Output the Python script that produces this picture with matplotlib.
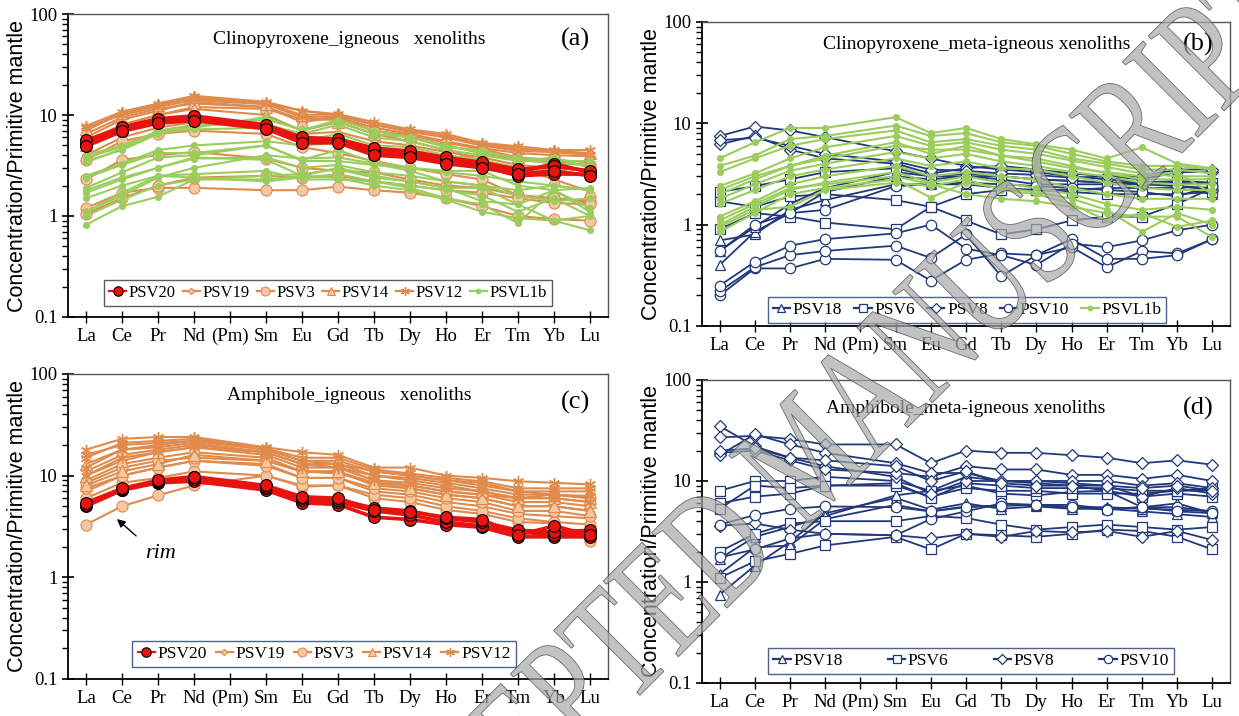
import matplotlib
matplotlib.use("Agg")
import matplotlib.pyplot as plt
from matplotlib.lines import Line2D
from matplotlib.patches import PathPatch
from matplotlib.textpath import TextPath
from matplotlib.font_manager import FontProperties
from matplotlib.transforms import Affine2D
from matplotlib.ticker import LogLocator, NullFormatter, FixedLocator
import numpy as np

# REE order, (Pm) is only a spacer on the x axis
REE_LABELS = ["La", "Ce", "Pr", "Nd", "(Pm)", "Sm", "Eu", "Gd", "Tb",
              "Dy", "Ho", "Er", "Tm", "Yb", "Lu"]

# ---- clinopyroxene, igneous xenoliths (a) ----
cpx_ig_psv20 = [
    [5.0, 7.0, 8.5, 9.0, 7.5, 5.5, 5.5, 4.2, 3.9, 3.4, 3.1, 2.5, 2.6, 2.6],
    [5.3, 7.3, 8.9, 9.5, 7.8, 5.8, 5.6, 4.5, 4.2, 3.6, 3.3, 2.7, 3.3, 2.7],
    [5.6, 7.6, 9.2, 9.8, 8.0, 6.0, 5.8, 4.7, 4.4, 3.8, 3.4, 2.9, 3.1, 2.8],
    [4.9, 6.9, 8.3, 8.8, 7.3, 5.3, 5.3, 4.0, 3.8, 3.3, 3.0, 2.6, 2.8, 2.5],
]
cpx_ig_psv19 = [
    [6.5, 9.5, 11.5, 13.0, 12.0, 9.0, 9.5, 7.5, 6.5, 5.5, 4.7, 4.2, 4.0, 3.9],
    [7.0, 10.5, 12.5, 14.5, 13.0, 11.0, 10.0, 8.0, 7.0, 6.0, 5.0, 4.6, 4.3, 4.1],
    [4.0, 6.0, 7.5, 8.5, 8.0, 6.5, 6.8, 5.5, 5.0, 4.3, 3.8, 3.2, 3.0, 2.8],
]
cpx_ig_psv3 = [
    [1.2, 1.7, 1.9, 1.9, 1.8, 1.8, 1.95, 1.8, 1.7, 1.5, 1.25, 1.0, 0.93, 0.9],
    [2.3, 3.6, 4.0, 4.3, 3.7, 3.0, 2.8, 2.7, 2.3, 2.0, 1.9, 1.6, 1.5, 1.35],
    [3.6, 5.5, 6.5, 7.0, 6.5, 4.8, 4.2, 3.5, 3.0, 2.6, 2.3, 1.6, 1.5, 1.4],
    [1.05, 1.5, 2.0, 2.4, 2.5, 2.4, 2.5, 2.2, 2.0, 1.8, 1.7, 1.5, 1.35, 1.3],
    [5.5, 8.0, 10.0, 12.0, 11.5, 9.0, 9.0, 7.0, 6.0, 5.0, 4.2, 3.6, 3.4, 3.2],
]
cpx_ig_psv14 = [
    [6.0, 9.0, 11.0, 13.5, 12.0, 8.5, 9.5, 7.0, 6.3, 5.3, 4.6, 3.8, 3.6, 3.4],
    [5.0, 8.0, 10.0, 11.5, 10.0, 7.0, 8.5, 6.5, 5.5, 4.5, 3.5, 3.0, 2.3, 1.75],
    [7.2, 10.5, 12.5, 15.0, 13.0, 10.0, 10.2, 8.0, 7.0, 6.2, 5.2, 4.7, 4.4, 4.2],
]
cpx_ig_psv12 = [
    [7.8, 10.8, 13.0, 15.5, 13.5, 11.0, 10.2, 8.5, 7.2, 6.5, 5.3, 4.9, 4.5, 4.5],
    [7.5, 10.0, 12.0, 14.0, 12.8, 9.5, 9.8, 8.0, 6.8, 6.0, 5.0, 4.4, 4.3, 4.0],
]
cpx_ig_psvl1b = [
    [3.5, 4.5, 6.5, 7.5, 9.5, 7.0, 9.0, 7.0, 6.0, 5.0, 4.2, 3.8, 3.5, 3.5],
    [3.8, 4.8, 7.0, 8.0, 8.0, 6.5, 8.0, 6.0, 5.5, 4.5, 4.0, 3.5, 3.8, 3.0],
    [4.0, 5.0, 6.8, 7.2, 7.5, 5.5, 6.5, 5.0, 4.8, 4.0, 3.6, 3.0, 3.0, 2.8],
    [2.5, 3.3, 4.5, 5.0, 5.5, 5.0, 5.3, 4.5, 4.3, 3.8, 3.4, 2.8, 2.9, 2.5],
    [2.4, 3.2, 4.2, 4.2, 5.0, 3.6, 4.5, 3.4, 3.0, 2.8, 2.8, 2.0, 1.8, 1.9],
    [1.9, 2.7, 3.8, 4.0, 5.0, 3.5, 3.5, 3.2, 3.0, 2.7, 2.5, 2.2, 2.0, 1.8],
    [1.7, 2.3, 3.0, 3.8, 3.6, 2.5, 3.0, 2.5, 2.2, 1.9, 1.9, 1.3, 1.8, 1.2],
    [1.5, 2.0, 2.5, 2.6, 2.8, 2.3, 2.3, 2.2, 2.0, 1.8, 1.6, 1.1, 1.5, 1.0],
    [1.1, 1.7, 2.5, 2.4, 2.2, 2.4, 2.6, 2.2, 1.9, 1.5, 1.3, 0.85, 1.8, 1.1],
    [1.0, 1.45, 2.0, 2.3, 2.5, 2.6, 2.9, 2.4, 2.2, 1.9, 1.4, 1.3, 0.9, 1.0],
    [0.82, 1.25, 1.55, 2.3, 2.3, 2.5, 2.4, 2.0, 1.8, 1.45, 1.1, 0.95, 0.9, 0.72],
    [1.1, 1.6, 2.4, 3.0, 4.0, 3.7, 3.8, 3.3, 2.8, 2.2, 2.0, 1.8, 2.0, 1.8],
    [3.4, 4.6, 6.8, 7.8, 9.0, 7.2, 8.5, 6.5, 6.0, 4.8, 4.5, 3.6, 3.3, 3.2],
    [1.8, 2.4, 3.0, 3.7, 3.8, 3.0, 3.2, 2.7, 2.5, 2.2, 2.0, 1.6, 1.4, 1.5],
]

# ---- clinopyroxene, meta-igneous xenoliths (b) ----
cpx_meta_psv18 = [
    [0.7, 0.8, 1.4, 1.75, 2.5, 2.5, 2.5, 2.3, 2.2, 2.2, 2.3, 2.3, 2.3, 2.0],
    [0.4, 0.85, 1.3, 2.1, 3.0, 2.8, 3.0, 2.8, 2.5, 2.5, 2.5, 2.5, 2.4, 2.3],
    [0.55, 0.95, 1.6, 2.3, 3.3, 3.0, 3.2, 3.0, 2.8, 2.7, 2.6, 2.5, 2.6, 2.5],
]
cpx_meta_psv6 = [
    [0.9, 1.3, 1.2, 1.05, 0.9, 1.5, 1.1, 0.8, 0.9, 1.1, 1.2, 1.2, 1.6, 2.3],
    [1.7, 1.5, 1.9, 2.0, 1.75, 1.5, 2.0, 2.2, 2.2, 2.1, 2.0, 2.0, 2.0, 2.1],
    [2.1, 2.4, 2.8, 3.3, 3.6, 3.0, 3.0, 3.0, 2.8, 2.7, 2.6, 2.6, 2.7, 2.6],
]
cpx_meta_psv8 = [
    [7.5, 9.3, 8.5, 7.3, 5.3, 4.5, 3.8, 3.5, 3.3, 3.0, 2.8, 2.6, 2.4, 2.2],
    [6.2, 7.5, 5.5, 4.5, 4.0, 3.2, 3.6, 3.8, 3.5, 3.2, 3.0, 2.8, 3.3, 3.3],
    [6.8, 7.2, 6.0, 5.0, 4.2, 3.5, 3.4, 3.2, 3.1, 2.9, 3.0, 3.0, 3.5, 3.5],
]
cpx_meta_psv10 = [
    [0.2, 0.37, 0.37, 0.46, 0.45, 0.28, 0.45, 0.52, 0.5, 0.6, 0.38, 0.55, 0.52, 0.72],
    [0.22, 0.38, 0.5, 0.55, 0.62, 0.47, 0.8, 0.31, 0.5, 0.72, 0.46, 0.46, 0.5, 0.72],
    [0.25, 0.43, 0.62, 0.72, 0.82, 1.0, 0.58, 0.5, 0.4, 0.65, 0.6, 0.7, 0.88, 1.0],
    [0.55, 1.0, 1.3, 1.4, 2.4, 2.5, 2.6, 2.5, 2.4, 2.3, 2.2, 2.1, 1.9, 2.4],
]
cpx_meta_psvl1b = [
    [4.5, 6.5, 9.0, 9.0, 11.5, 8.0, 9.0, 7.0, 6.2, 5.5, 4.5, 5.8, 4.0, 3.6],
    [3.8, 4.8, 7.0, 7.5, 9.5, 7.5, 8.0, 6.5, 6.0, 5.0, 4.2, 3.8, 3.8, 3.5],
    [3.3, 4.5, 6.0, 7.0, 8.5, 6.5, 7.0, 6.0, 5.5, 4.5, 4.0, 3.5, 3.5, 3.2],
    [2.4, 3.2, 4.5, 5.8, 7.5, 6.0, 6.5, 5.5, 5.0, 4.3, 3.7, 3.2, 3.0, 3.0],
    [2.2, 3.0, 3.8, 4.8, 6.5, 5.0, 6.0, 4.8, 4.5, 3.8, 3.2, 2.8, 2.8, 2.8],
    [1.8, 2.5, 3.4, 4.0, 5.2, 4.5, 5.0, 4.2, 3.8, 3.3, 3.0, 2.6, 2.5, 2.5],
    [1.6, 2.2, 3.0, 3.5, 4.5, 3.8, 4.2, 3.6, 3.5, 3.0, 2.6, 2.3, 2.2, 2.2],
    [1.2, 1.7, 2.5, 3.0, 3.8, 3.0, 3.3, 3.0, 2.8, 2.3, 2.0, 1.8, 1.8, 1.8],
    [1.0, 1.5, 2.2, 2.6, 3.3, 2.6, 3.0, 2.6, 2.3, 2.0, 1.6, 1.4, 1.5, 1.4],
    [0.85, 1.3, 2.0, 2.3, 2.8, 1.85, 2.6, 2.3, 2.1, 1.8, 1.4, 0.85, 1.3, 1.0],
    [1.1, 1.6, 2.3, 2.5, 3.0, 2.5, 2.0, 1.8, 1.7, 1.5, 1.3, 1.2, 1.2, 0.75],
    [0.95, 1.4, 1.5, 2.2, 2.6, 2.4, 2.8, 2.2, 2.0, 1.6, 1.1, 1.3, 0.95, 1.1],
    [2.0, 2.8, 3.8, 4.5, 6.0, 5.5, 5.5, 4.8, 4.2, 3.6, 3.3, 3.0, 3.3, 2.0],
]

# ---- amphibole, igneous xenoliths (c) ----
amp_ig_psv20 = [
    [5.0, 7.2, 8.5, 8.8, 7.2, 5.4, 5.2, 3.9, 3.7, 3.3, 3.1, 2.5, 2.5, 2.5],
    [5.1, 7.3, 8.7, 9.3, 7.5, 5.7, 5.5, 4.5, 4.1, 3.5, 3.2, 2.8, 2.6, 2.7],
    [5.2, 7.4, 8.8, 9.6, 7.8, 6.0, 5.8, 4.8, 4.5, 3.8, 3.5, 2.9, 2.8, 2.9],
    [5.4, 7.5, 9.0, 9.8, 8.0, 6.2, 6.0, 4.6, 4.4, 3.9, 3.7, 2.6, 3.2, 2.6],
]
amp_ig_psv19 = [
    [9.0, 13.0, 15.0, 17.0, 15.0, 11.0, 11.0, 8.0, 7.5, 6.5, 6.0, 5.0, 5.0, 4.5],
    [11.0, 16.0, 18.0, 20.0, 17.0, 13.0, 12.0, 9.0, 8.0, 7.0, 6.5, 5.5, 5.5, 5.0],
    [7.0, 10.0, 12.0, 14.0, 13.0, 9.5, 9.5, 7.0, 6.5, 5.5, 5.0, 4.2, 4.0, 3.8],
]
amp_ig_psv3 = [
    [3.3, 5.0, 6.4, 8.0, 10.0, 7.8, 8.0, 6.0, 5.5, 4.6, 4.2, 3.5, 3.4, 2.3],
    [6.0, 8.5, 9.5, 11.0, 10.0, 8.0, 8.0, 6.5, 6.0, 5.0, 4.5, 3.8, 3.5, 3.3],
    [7.5, 10.0, 12.0, 14.0, 12.5, 9.5, 9.5, 7.5, 7.0, 6.0, 5.5, 4.5, 4.5, 4.0],
    [8.5, 12.0, 14.0, 15.0, 14.0, 11.0, 10.5, 8.5, 8.0, 7.0, 6.5, 6.0, 6.5, 6.0],
]
amp_ig_psv14 = [
    [10.0, 14.0, 17.0, 19.0, 17.0, 13.0, 13.0, 10.0, 9.0, 8.0, 7.0, 6.0, 6.0, 5.5],
    [8.0, 11.0, 13.0, 16.0, 14.0, 11.0, 11.0, 8.5, 7.5, 6.5, 6.0, 5.0, 5.0, 4.5],
    [13.0, 18.0, 20.0, 22.0, 18.0, 14.0, 14.0, 11.0, 10.0, 9.0, 8.0, 7.0, 6.5, 6.0],
]
amp_ig_psv12 = [
    [18.0, 23.0, 24.0, 24.0, 19.0, 17.0, 16.0, 12.0, 12.0, 10.0, 9.5, 8.8, 8.5, 8.2],
    [15.0, 21.0, 22.0, 23.0, 18.5, 15.0, 15.0, 11.5, 10.5, 9.5, 8.8, 7.5, 7.5, 7.5],
    [16.0, 20.0, 21.0, 22.0, 18.0, 14.0, 13.0, 11.0, 10.0, 9.0, 8.5, 7.0, 7.0, 7.0],
    [12.0, 18.0, 19.0, 21.0, 17.0, 13.0, 12.0, 10.0, 9.5, 8.5, 7.5, 6.5, 6.5, 6.3],
    [10.0, 15.0, 17.0, 19.0, 16.0, 12.0, 12.0, 9.0, 8.5, 7.5, 7.0, 6.0, 6.0, 5.5],
]

# ---- amphibole, meta-igneous xenoliths (d) ----
amp_meta_psv18 = [
    [0.75, 1.45, 2.5, 4.8, 6.8, 5.2, 6.0, 5.3, 5.6, 5.3, 5.3, 5.0, 4.7, 4.4],
    [1.2, 2.2, 2.3, 4.2, 5.8, 5.0, 5.6, 5.7, 5.8, 5.5, 5.5, 5.3, 5.2, 5.0],
    [1.7, 2.8, 3.5, 4.5, 7.2, 8.0, 11.0, 10.0, 9.5, 9.0, 8.0, 5.5, 6.0, 4.8],
]
amp_meta_psv6 = [
    [1.1, 1.6, 1.9, 2.3, 2.8, 2.1, 3.0, 2.9, 2.8, 3.0, 3.3, 3.2, 2.8, 2.1],
    [2.0, 3.0, 3.8, 4.0, 4.0, 4.5, 4.3, 3.7, 3.3, 3.5, 3.7, 3.5, 3.3, 3.5],
    [8.0, 10.0, 10.0, 11.0, 10.0, 8.0, 9.0, 7.5, 7.2, 7.8, 8.0, 7.0, 7.5, 7.0],
    [6.0, 7.0, 7.5, 9.0, 9.0, 7.0, 8.5, 8.0, 8.0, 7.5, 7.5, 7.5, 8.0, 8.0],
    [5.3, 9.0, 8.5, 9.0, 9.5, 6.8, 9.5, 9.0, 8.5, 8.5, 8.5, 8.0, 8.0, 8.5],
]
amp_meta_psv8 = [
    [35.0, 22.0, 17.0, 14.0, 11.0, 7.5, 10.0, 10.0, 10.0, 9.5, 9.0, 7.0, 8.5, 7.5],
    [27.0, 28.0, 26.0, 23.0, 23.0, 15.0, 20.0, 19.0, 19.0, 18.0, 17.0, 15.0, 16.0, 14.5],
    [19.0, 20.0, 16.0, 13.0, 12.0, 11.0, 14.0, 13.0, 13.0, 11.5, 11.5, 10.5, 11.5, 10.0],
    [18.0, 29.0, 23.0, 19.0, 15.0, 12.0, 12.0, 10.0, 10.0, 10.0, 10.0, 9.0, 9.5, 8.5],
    [3.6, 3.8, 3.3, 3.0, 2.9, 2.7, 3.0, 2.8, 3.2, 3.1, 3.2, 2.8, 3.2, 2.6],
    [20.0, 21.0, 17.0, 16.0, 14.0, 10.0, 12.5, 9.5, 9.0, 9.0, 9.0, 8.5, 9.0, 8.0],
]
amp_meta_psv10 = [
    [1.75, 2.1, 2.7, 3.0, 2.9, 4.2, 5.0, 6.0, 5.8, 5.8, 5.3, 5.5, 5.5, 5.0],
    [3.7, 4.6, 5.3, 5.6, 5.5, 5.0, 5.5, 5.7, 5.8, 5.5, 5.2, 5.5, 5.0, 4.8],
]

ORANGE = "#E08A4C"
PEACH = "#F4C7A3"
RED = "#E8130F"
GREEN = "#9ACD5C"
NAVY = "#21397A"

SERIF = "Liberation Serif"
SANS = "Liberation Sans"

plt.rcParams["font.family"] = SERIF

# sample styles: line colour, marker, face, edge, size, line width
STYLE = {
    "PSV20": dict(color=RED, marker="o", mfc=RED, mec="black", ms=8.5, lw=2.6, mew=0.8),
    "PSV19": dict(color=ORANGE, marker="D", mfc=PEACH, mec=ORANGE, ms=4.0, lw=1.5, mew=0.8),
    "PSV3": dict(color=ORANGE, marker="o", mfc=PEACH, mec=ORANGE, ms=8.0, lw=1.5, mew=0.8),
    "PSV14": dict(color=ORANGE, marker="^", mfc=PEACH, mec=ORANGE, ms=8.0, lw=1.5, mew=0.8),
    "PSV12": dict(color=ORANGE, marker=(6, 2, 0), mfc=ORANGE, mec=ORANGE, ms=8.0, lw=1.5, mew=1.0),
    "PSVL1b": dict(color=GREEN, marker="o", mfc=GREEN, mec=GREEN, ms=4.5, lw=1.5, mew=0.6),
    "PSV18": dict(color=NAVY, marker="^", mfc="white", mec=NAVY, ms=7.5, lw=1.3, mew=0.9),
    "PSV6": dict(color=NAVY, marker="s", mfc="white", mec=NAVY, ms=7.5, lw=1.3, mew=0.9),
    "PSV8": dict(color=NAVY, marker="D", mfc="white", mec=NAVY, ms=6.5, lw=1.3, mew=0.9),
    "PSV10": dict(color=NAVY, marker="o", mfc="white", mec=NAVY, ms=7.5, lw=1.3, mew=0.9),
}

X_POS = [i for i, el in enumerate(REE_LABELS) if el != "(Pm)"]


def _draw_group(ax, name, profiles, zorder):
    st = STYLE[name]
    for prof in profiles:
        ax.plot(X_POS, prof, color=st["color"], lw=st["lw"], marker=st["marker"],
                mfc=st["mfc"], mec=st["mec"], ms=st["ms"], mew=st["mew"],
                zorder=zorder)


def _handle(name):
    st = STYLE[name]
    return Line2D([], [], color=st["color"], lw=1.6, marker=st["marker"],
                  mfc=st["mfc"], mec=st["mec"], ms=st["ms"] * 0.8, mew=st["mew"],
                  label=name)


def _setup_axis(ax, title, tag, title_xy, tag_xy):
    ax.set_yscale("log")
    ax.set_ylim(0.1, 100)
    ax.set_xlim(-0.5, 14.5)
    ax.xaxis.set_major_locator(FixedLocator(range(len(REE_LABELS))))
    ax.set_xticklabels(REE_LABELS, fontsize=13.5)
    ax.yaxis.set_minor_locator(LogLocator(base=10, subs=np.arange(2, 10), numticks=10))
    ax.yaxis.set_minor_formatter(NullFormatter())
    ax.set_yticks([0.1, 1, 10, 100])
    ax.set_yticklabels(["0.1", "1", "10", "100"], fontsize=13.5)
    ax.tick_params(axis="x", which="major", direction="inout", length=8, width=1,
                   pad=4, top=False)
    ax.tick_params(axis="y", which="major", direction="inout", length=9, width=1.2,
                   right=False, pad=3)
    ax.tick_params(axis="y", which="minor", direction="out", length=4, width=1,
                   right=False)
    ax.spines["left"].set_linewidth(1.3)
    ax.spines["bottom"].set_linewidth(1.3)
    for s in ("top", "right"):
        ax.spines[s].set_color("#555555")
        ax.spines[s].set_linewidth(1.0)
    ax.set_ylabel("Concentration/Primitive mantle", family=SANS, fontsize=15.5,
                  labelpad=1)
    ax.text(*title_xy, title, transform=ax.transAxes, ha="center", va="center",
            fontsize=14)
    ax.text(*tag_xy, tag, transform=ax.transAxes, ha="center", va="center",
            fontsize=19)


def _legend(ax, fig, names, center_px, edge, colsp, size=12.5):
    leg = ax.legend(handles=[_handle(n) for n in names], ncol=len(names),
                    loc="center",
                    bbox_to_anchor=(center_px[0] / 1239, 1 - center_px[1] / 716),
                    bbox_transform=fig.transFigure, fontsize=size, frameon=True,
                    fancybox=False, handlelength=1.0, handletextpad=0.15,
                    columnspacing=colsp, borderpad=0.3, borderaxespad=0)
    leg.get_frame().set_edgecolor(edge)
    leg.get_frame().set_linewidth(1.0)
    leg.set_zorder(20)


def _stamp(fig, text, center_px, length_px, stretch, angle):
    """Diagonal outlined stamp text, sized by its baseline length in pixels."""
    tp = TextPath((0, 0), text, size=1, prop=FontProperties(family=SERIF))
    ext = tp.get_extents()
    k = length_px / ext.width
    tr = (Affine2D()
          .translate(-(ext.x0 + ext.x1) / 2, -(ext.y0 + ext.y1) / 2)
          .scale(k, k * stretch)
          .rotate_deg(angle)
          .translate(center_px[0], fig.bbox.height - center_px[1]))
    patch = PathPatch(tr.transform_path(tp), transform=None, facecolor="#a8a8a8",
                      edgecolor="#3a3a3a", lw=0.6, alpha=0.7, zorder=50)
    fig.patches.append(patch)


fig = plt.figure(figsize=(12.39, 7.16), dpi=100)
ax_a = fig.add_axes([0.0549, 0.5573, 0.4358, 0.4231])
ax_b = fig.add_axes([0.5666, 0.5447, 0.4261, 0.4246])
ax_c = fig.add_axes([0.0549, 0.0517, 0.4358, 0.4260])
ax_d = fig.add_axes([0.5666, 0.0461, 0.4261, 0.4232])

# (a) clinopyroxene, igneous
_draw_group(ax_a, "PSV19", cpx_ig_psv19, 3)
_draw_group(ax_a, "PSV3", cpx_ig_psv3, 3)
_draw_group(ax_a, "PSV14", cpx_ig_psv14, 3)
_draw_group(ax_a, "PSV12", cpx_ig_psv12, 3)
_draw_group(ax_a, "PSVL1b", cpx_ig_psvl1b, 4)
_draw_group(ax_a, "PSV20", cpx_ig_psv20, 5)
_setup_axis(ax_a, "Clinopyroxene_igneous   xenoliths", "(a)", (0.52, 0.915), (0.94, 0.915))
_legend(ax_a, fig, ["PSV20", "PSV19", "PSV3", "PSV14", "PSV12", "PSVL1b"],
        (328, 293), "#333333", 0.45, size=12)

# (b) clinopyroxene, meta-igneous
_draw_group(ax_b, "PSV18", cpx_meta_psv18, 3)
_draw_group(ax_b, "PSV6", cpx_meta_psv6, 3)
_draw_group(ax_b, "PSV8", cpx_meta_psv8, 3)
_draw_group(ax_b, "PSV10", cpx_meta_psv10, 3)
_draw_group(ax_b, "PSVL1b", cpx_meta_psvl1b, 4)
_setup_axis(ax_b, "Clinopyroxene_meta-igneous xenoliths", "(b)", (0.52, 0.925), (0.94, 0.925))
_legend(ax_b, fig, ["PSV18", "PSV6", "PSV8", "PSV10", "PSVL1b"],
        (967, 310), NAVY, 0.7)

# (c) amphibole, igneous
_draw_group(ax_c, "PSV19", amp_ig_psv19, 3)
_draw_group(ax_c, "PSV3", amp_ig_psv3, 3)
_draw_group(ax_c, "PSV14", amp_ig_psv14, 3)
_draw_group(ax_c, "PSV12", amp_ig_psv12, 3)
_draw_group(ax_c, "PSV20", amp_ig_psv20, 5)
_setup_axis(ax_c, "Amphibole_igneous   xenoliths", "(c)", (0.52, 0.93), (0.94, 0.905))
_legend(ax_c, fig, ["PSV20", "PSV19", "PSV3", "PSV14", "PSV12"],
        (324, 654), NAVY, 0.5)
ax_c.annotate("", xy=(0.8, 3.9), xytext=(1.45, 2.45),
              arrowprops=dict(arrowstyle="-|>", color="black", lw=1.0,
                              mutation_scale=12), zorder=6)
ax_c.text(1.65, 1.72, "rim", fontsize=16, style="italic", ha="left", va="center")

# (d) amphibole, meta-igneous
_draw_group(ax_d, "PSV18", amp_meta_psv18, 3)
_draw_group(ax_d, "PSV6", amp_meta_psv6, 3)
_draw_group(ax_d, "PSV8", amp_meta_psv8, 3)
_draw_group(ax_d, "PSV10", amp_meta_psv10, 3)
_setup_axis(ax_d, "Amphibole_meta-igneous xenoliths", "(d)", (0.5, 0.905), (0.94, 0.905))
_legend(ax_d, fig, ["PSV18", "PSV6", "PSV8", "PSV10"],
        (971, 661), NAVY, 2.6)

# diagonal manuscript stamp across the sheet
_stamp(fig, "ACCEPTED MANUSCRIPT", (805, 455), 1330, 1.45, 45)

fig.savefig("out.png", dpi=100)
